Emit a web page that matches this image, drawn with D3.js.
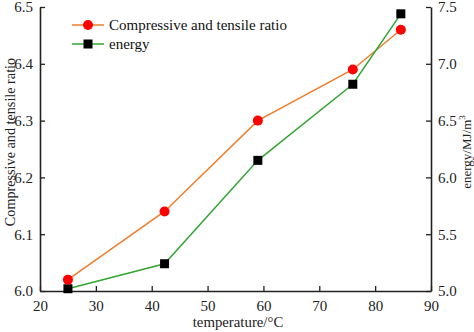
<!DOCTYPE html>
<html>
<head>
<meta charset="utf-8">
<script src="https://cdn.jsdelivr.net/npm/d3@7"></script>
<style>
  body { margin: 0; background: #fff; }
</style>
</head>
<body>
<svg id="chart" width="474" height="332" font-family="Liberation Serif, DejaVu Serif, serif"></svg>
<script>
const temperature = [25, 42.3, 59, 76, 84.6]
const ratio = [6.02, 6.14, 6.30, 6.39, 6.46]
const energy = [5.02, 5.24, 6.15, 6.82, 7.44]
const xTicks = [20, 30, 40, 50, 60, 70, 80, 90]
const yTicks = [6.0, 6.1, 6.2, 6.3, 6.4, 6.5]
const y2Ticks = [5.0, 5.5, 6.0, 6.5, 7.0, 7.5]

const FONT = 'Liberation Serif, DejaVu Serif, serif'
const svg = d3.select('#chart'),
  m = { left: 40, right: 431, top: 7, bottom: 291 }

const x = d3.scaleLinear().domain([20, 90]).range([m.left, m.right])
const y = d3.scaleLinear().domain([6.0, 6.5]).range([m.bottom, m.top])
const y2 = d3.scaleLinear().domain([5.0, 7.5]).range([m.bottom, m.top])

const axisColor = '#222'

// major + minor ticks drawn inward
function drawAxis(g, axis, minorAxis) {
  g.call(minorAxis).selectAll('text').remove()
  g.call(axis)
  g.attr('font-family', FONT)
  g.selectAll('.domain').attr('stroke', axisColor).attr('stroke-width', 1.6)
  g.selectAll('line').attr('stroke', axisColor).attr('stroke-width', 1.3)
  g.selectAll('text')
    .attr('font-size', 15)
    .attr('fill', axisColor)
    .style('font-family', FONT)
}

svg.append('g')
  .attr('transform', `translate(0,${m.bottom})`)
  .call(drawAxis,
    d3.axisBottom(x).tickValues(xTicks).tickSize(-5).tickPadding(9).tickFormat(d3.format('d')).tickSizeOuter(0),
    d3.axisBottom(x).tickValues(d3.range(25, 90, 10)).tickSize(-3).tickSizeOuter(0))

svg.append('g')
  .attr('transform', `translate(${m.left},0)`)
  .call(drawAxis,
    d3.axisLeft(y).tickValues(yTicks).tickSize(-5).tickPadding(7).tickFormat(d3.format('.1f')).tickSizeOuter(0),
    d3.axisLeft(y).tickValues(d3.range(6.05, 6.5, 0.1)).tickSize(-3).tickSizeOuter(0))

svg.append('g')
  .attr('transform', `translate(${m.right},0)`)
  .call(drawAxis,
    d3.axisRight(y2).tickValues(y2Ticks).tickSize(-5).tickPadding(7).tickFormat(d3.format('.1f')).tickSizeOuter(0),
    d3.axisRight(y2).tickValues(d3.range(5.25, 7.5, 0.5)).tickSize(-3).tickSizeOuter(0))

// axis titles
svg.append('text')
  .attr('transform', `translate(15,142) rotate(-90)`)
  .attr('text-anchor', 'middle')
  .attr('font-size', 14.2)
  .attr('fill', axisColor)
  .text('Compressive and tensile ratio')

const t2 = svg.append('text')
  .attr('transform', `translate(471,152) rotate(-90)`)
  .attr('text-anchor', 'middle')
  .attr('font-size', 13)
  .attr('fill', axisColor)
t2.append('tspan').text('energy/MJ/m')
t2.append('tspan').attr('font-size', 9).attr('dy', -6).text('3')

svg.append('text')
  .attr('x', 238)
  .attr('y', 327)
  .attr('text-anchor', 'middle')
  .attr('font-size', 14.8)
  .attr('fill', axisColor)
  .text('temperature/°C')

const ratioPts = temperature.map((t, i) => [t, ratio[i]])
const energyPts = temperature.map((t, i) => [t, energy[i]])

svg.append('path')
  .datum(ratioPts)
  .attr('fill', 'none')
  .attr('stroke', '#f07d2c')
  .attr('stroke-width', 1.5)
  .attr('d', d3.line().x(d => x(d[0])).y(d => y(d[1])))

svg.append('path')
  .datum(energyPts)
  .attr('fill', 'none')
  .attr('stroke', '#35a535')
  .attr('stroke-width', 1.5)
  .attr('d', d3.line().x(d => x(d[0])).y(d => y2(d[1])))

svg.selectAll('.sq')
  .data(energyPts)
  .enter()
  .append('rect')
  .attr('x', d => x(d[0]) - 4.5)
  .attr('y', d => y2(d[1]) - 4.5)
  .attr('width', 9)
  .attr('height', 9)
  .attr('fill', '#000')

svg.selectAll('.dot')
  .data(ratioPts)
  .enter()
  .append('circle')
  .attr('cx', d => x(d[0]))
  .attr('cy', d => y(d[1]))
  .attr('r', 5)
  .attr('fill', '#ff0000')

// legend
const legend = [
  { label: 'Compressive and tensile ratio', color: '#f07d2c', shape: 'circle' },
  { label: 'energy', color: '#35a535', shape: 'square' }
]
const lg = svg.append('g').attr('transform', 'translate(72,25)')
legend.forEach((d, i) => {
  const row = lg.append('g').attr('transform', `translate(0,${i * 19})`)
  row.append('line').attr('x1', 0).attr('x2', 32).attr('stroke', d.color).attr('stroke-width', 1.5)
  if (d.shape === 'circle') {
    row.append('circle').attr('cx', 16).attr('r', 5).attr('fill', '#ff0000')
  } else {
    row.append('rect').attr('x', 11.5).attr('y', -4.5).attr('width', 9).attr('height', 9).attr('fill', '#000')
  }
  row.append('text').attr('x', 37).attr('y', 5).attr('font-size', 15).attr('fill', '#111').text(d.label)
})
</script>
</body>
</html>
